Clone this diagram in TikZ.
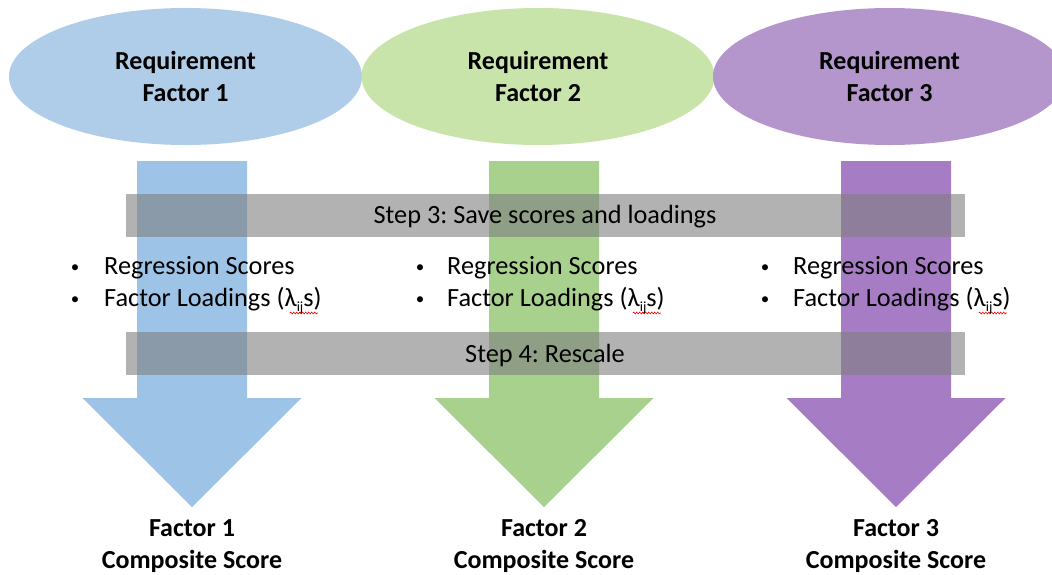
\documentclass[tikz,border=0pt]{standalone}
\usepackage{fontspec}
\setmainfont{Carlito}
\frenchspacing
\usetikzlibrary{shapes.geometric,decorations.pathmorphing}
\definecolor{ellA}{HTML}{AFCDE9}
\definecolor{ellB}{HTML}{C8E4AA}
\definecolor{ellC}{HTML}{B496CC}
\definecolor{arrA}{HTML}{9DC3E6}
\definecolor{arrB}{HTML}{A9D18E}
\definecolor{arrC}{HTML}{A67DC5}
\definecolor{barg}{HTML}{7F7F7F}
\tikzset{
  req/.style={ellipse, minimum width=353pt, minimum height=137pt, inner sep=0pt,
    align=center, font=\fontsize{26}{32}\selectfont\bfseries},
  fat/.pic={\fill[#1] (-55,161) -- (55,161) -- (55,398) -- (109.5,398) -- (0,507)
      -- (-109.5,398) -- (-55,398) -- cycle;},
  bar/.style={fill=barg, fill opacity=0.6, minimum width=839pt, minimum height=43pt, inner sep=0pt},
  txt/.style={font=\fontsize{26.3}{32}\selectfont, inner sep=0pt},
  bul/.style={font=\fontsize{17}{32}\selectfont, inner sep=0pt},
  lbl/.style={align=center, font=\fontsize{26}{32}\selectfont\bfseries, inner sep=0pt},
  squig/.style={draw=red, line width=0.6pt, decorate, decoration={snake, amplitude=0.9pt, segment length=3pt}}
}
\newcommand{\lamij}{(λ\raisebox{-0.45ex}{\fontsize{14}{14}\selectfont ij}s)}
\begin{document}
\begin{tikzpicture}[x=1pt,y=-1pt]
\useasboundingbox (0,0) rectangle (1052,574);
\clip (0,0) rectangle (1052,574);
% ellipses
\node[req, fill=ellA] (e1) at (185.5,76.5) {Requirement\\Factor 1};
\node[req, fill=ellB] (e2) at (538,76.5) {Requirement\\Factor 2};
\node[req, fill=ellC] (e3) at (889.5,76.5) {Requirement\\Factor 3};
% arrows
\pic at (192,0) {fat=arrA};
\pic at (544,0) {fat=arrB};
\pic at (896,0) {fat=arrC};
% bars
\node[bar] (s3) at (545.5,215.5) {};
\node[bar] (s4) at (545.5,353.5) {};
\node[txt, anchor=base] (t3) at (545,223) {Step 3: Save scores and loadings};
\node[txt, anchor=base] (t4) at (545,362) {Step 4: Rescale};
% bullets
\foreach \bx/\tx/\n in {75/104/a, 420/447/b, 765/793/c}{
  \node[bul, anchor=base] (b1\n) at (\bx,272) {•};
  \node[txt, anchor=base west] (r\n) at (\tx,274) {Regression Scores};
  \node[bul, anchor=base] (b2\n) at (\bx,304) {•};
  \node[txt, anchor=base west] (f\n) at (\tx,306) {Factor Loadings \lamij};
}
% spell-check squiggles
\foreach \n in {a,b,c}{
  \draw[squig] ([xshift=-32pt,yshift=-7pt]f\n.base east) -- ([xshift=-4pt,yshift=-7pt]f\n.base east);
}
% bottom labels
\node[lbl] (c1) at (192,546) {Factor 1\\Composite Score};
\node[lbl] (c2) at (544,546) {Factor 2\\Composite Score};
\node[lbl] (c3) at (896,546) {Factor 3\\Composite Score};
\end{tikzpicture}
\end{document}
